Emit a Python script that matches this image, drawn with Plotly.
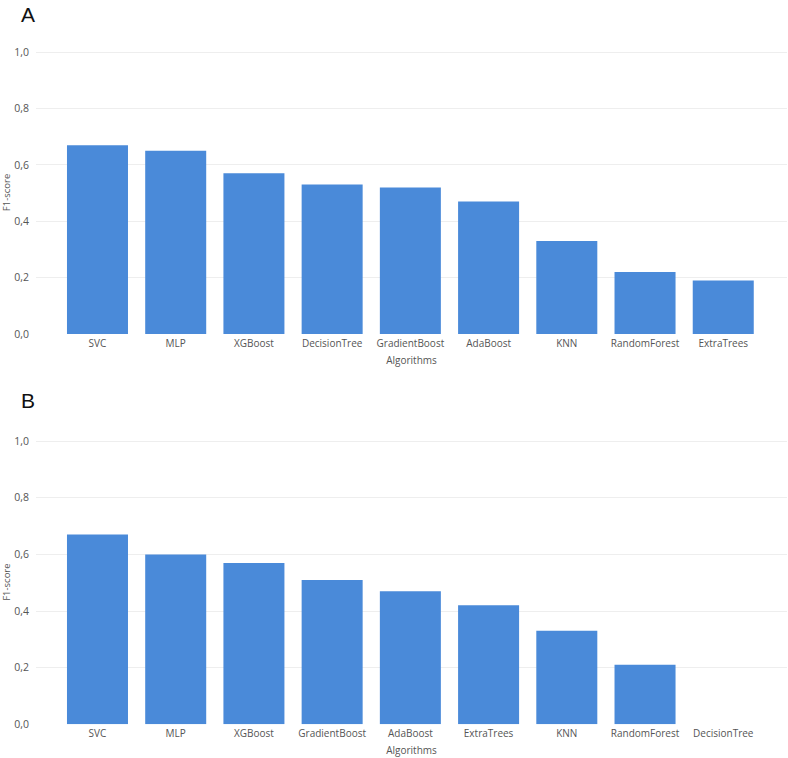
import plotly.graph_objects as go

W, H = 788, 758

algos_a = ["SVC", "MLP", "XGBoost", "DecisionTree", "GradientBoost", "AdaBoost", "KNN", "RandomForest", "ExtraTrees"]
f1_a = [0.67, 0.65, 0.57, 0.53, 0.52, 0.47, 0.33, 0.22, 0.19]

algos_b = ["SVC", "MLP", "XGBoost", "GradientBoost", "AdaBoost", "ExtraTrees", "KNN", "RandomForest", "DecisionTree"]
f1_b = [0.67, 0.60, 0.57, 0.51, 0.47, 0.42, 0.33, 0.21, 0.0]

y_ticks = [0.0, 0.2, 0.4, 0.6, 0.8, 1.0]

BAR = "#4a8ad9"
FONT = "Open Sans, Noto Sans, sans-serif"

fig = go.Figure()
fig.add_trace(go.Bar(x=algos_a, y=f1_a, marker=dict(color=BAR, line=dict(width=0)),
                     xaxis="x", yaxis="y", showlegend=False))
fig.add_trace(go.Bar(x=algos_b, y=f1_b, marker=dict(color=BAR, line=dict(width=0)),
                     xaxis="x2", yaxis="y2", showlegend=False))

def px_x(p):
    return p / W

def px_y(p):
    return (H - p) / H

xdom = [px_x(36), px_x(787)]
common_x = dict(domain=xdom, range=[-0.786, 8.815], showgrid=False, showline=False, zeroline=False,
                ticks="", ticklabelstandoff=2, tickfont=dict(size=10, color="#555", family=FONT),
                title=dict(text="Algorithms", font=dict(size=10, color="#555", family=FONT), standoff=7),
                automargin=False)
common_y = dict(range=[0, 1.004], tickvals=y_ticks, tickformat=".1f", showgrid=True, gridcolor="#eeeeee",
                gridwidth=1, zeroline=False, showline=False, ticks="", ticklabelstandoff=6,
                tickfont=dict(size=10.5, color="#555", family=FONT),
                title=dict(text="F1-score", font=dict(size=9.5, color="#555", family=FONT), standoff=7),
                automargin=False)

fig.update_layout(
    width=W, height=H,
    margin=dict(l=0, r=0, t=0, b=0),
    paper_bgcolor="white", plot_bgcolor="white",
    separators=",.",
    bargap=0.22,
    xaxis=dict(**common_x, anchor="y"),
    yaxis=dict(**common_y, domain=[px_y(334), px_y(51)], anchor="x"),
    xaxis2=dict(**common_x, anchor="y2"),
    yaxis2=dict(**common_y, domain=[px_y(724.3), px_y(440)], anchor="x2"),
    annotations=[
        dict(text="A", x=px_x(19), y=px_y(14), xref="paper", yref="paper", xanchor="left", yanchor="middle",
             showarrow=False, font=dict(size=21, color="#111", family="Liberation Sans, Arial, sans-serif")),
        dict(text="B", x=px_x(19), y=px_y(400), xref="paper", yref="paper", xanchor="left", yanchor="middle",
             showarrow=False, font=dict(size=21, color="#111", family="Liberation Sans, Arial, sans-serif")),
    ],
)

fig.write_html("out.html", config={"displayModeBar": False},
               post_script="document.body.style.margin='0';document.body.style.overflow='hidden';")
